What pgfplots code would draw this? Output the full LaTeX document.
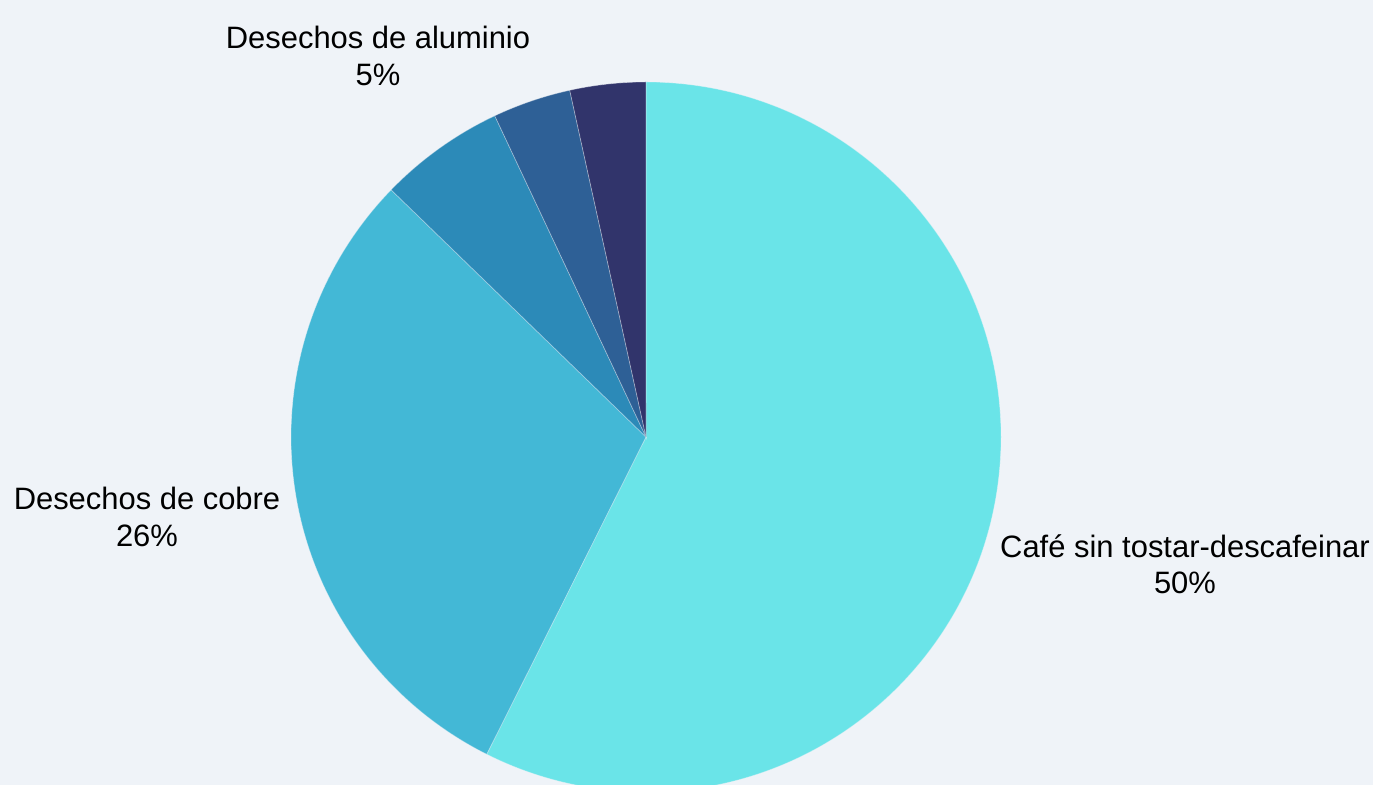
\documentclass[border=0pt]{standalone}
\usepackage{fontspec}
\setmainfont{Liberation Sans}
\usepackage{pgfplots}
\usepackage{pgfplotstable}
\pgfplotsset{compat=1.18}

\definecolor{bg}{HTML}{EFF3F8}
\definecolor{c1}{HTML}{6AE4E8}
\definecolor{c2}{HTML}{43B8D6}
\definecolor{c3}{HTML}{2C8AB8}
\definecolor{c4}{HTML}{2E6096}
\definecolor{c5}{HTML}{31346B}

% slice values (last two slices are unlabeled)
\pgfplotstableread{
name value col
cafe 50 c1
cobre 26 c2
alu 5 c3
x1 3.1 c4
x2 3.0 c5
}\piedata

\begin{document}
\begin{tikzpicture}
\fill[bg] (0,0) rectangle (13.73,7.85);
\begin{axis}[
  at={(0,0)}, anchor=south west,
  x=1cm, y=1cm,
  xmin=0, xmax=13.73, ymin=0, ymax=7.85,
  hide axis,
  font=\fontsize{8.8}{10.3}\selectfont,
]
\pgfmathsetmacro\total{0}
\pgfplotsforeachungrouped \i in {0,...,4}{%
  \pgfplotstablegetelem{\i}{value}\of\piedata
  \pgfmathsetmacro\total{\total+\pgfplotsretval}%
}
\def\cur{90}
\pgfplotsforeachungrouped \i in {0,...,4}{%
  \pgfplotstablegetelem{\i}{value}\of\piedata \let\v=\pgfplotsretval
  \pgfplotstablegetelem{\i}{col}\of\piedata \let\c=\pgfplotsretval
  \pgfmathsetmacro\nxt{\cur-\v/\total*360}%
  \edef\temp{\noexpand\fill[\c, draw=bg, draw opacity=0.4, line width=0.2pt]
    (axis cs:6.46,3.48) -- ++(\cur:3.55cm)
    arc[start angle=\cur, end angle=\nxt, radius=3.55cm] -- cycle;}%
  \temp
  \let\cur=\nxt
}
\node[align=center] at (axis cs:3.78,7.29) {Desechos de aluminio\\5\%};
\node[align=center] at (axis cs:1.47,2.68) {Desechos de cobre\\26\%};
\node[align=center] at (axis cs:11.85,2.21) {Café sin tostar-descafeinar\\50\%};
\end{axis}
\end{tikzpicture}
\end{document}
